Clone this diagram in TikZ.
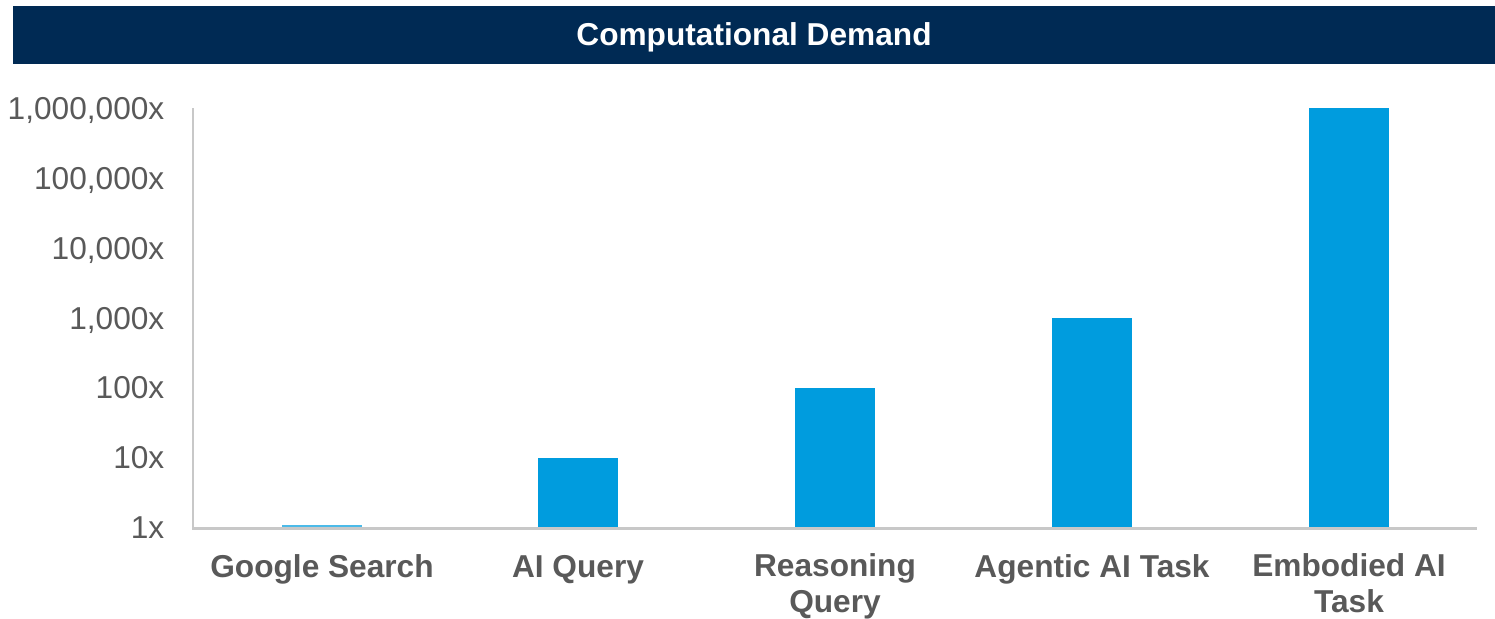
\documentclass[tikz,border=0pt]{standalone}
\usepackage{fontspec}
\setmainfont{Liberation Sans}
\definecolor{titlenavy}{RGB}{0,42,84}
\definecolor{barblue}{RGB}{0,156,222}
\definecolor{axisgray}{RGB}{200,200,200}
\definecolor{labelgray}{RGB}{89,89,89}
\tikzset{
  ticklabel/.style={anchor=base east, inner sep=0pt, text=labelgray, font=\fontsize{9}{10}\selectfont},
  catlabel/.style={anchor=base, inner sep=0pt, align=center, text=labelgray, font=\fontsize{9}{10}\selectfont\bfseries},
  bar/.style={fill=barblue}
}
\begin{document}
\begin{tikzpicture}[x=0.01cm,y=-0.01cm]
  \useasboundingbox (0,0) rectangle (1495,618);
  % Title banner
  \fill[titlenavy] (13,6) rectangle (1495,64);
  \node[text=white, font=\fontsize{9}{10}\selectfont\bfseries] (title) at (754,37) {Computational Demand};
  % Axes
  \draw[axisgray, line width=0.85pt] (193,108) -- (193,528) -- (1477,528);
  % Bars (log scale, 69.8 px per decade above 1x)
  \fill[barblue!70] (282,527) rectangle (362,525);
  \fill[bar] (538,527) rectangle (618,458);
  \fill[bar] (795,527) rectangle (875,388);
  \fill[bar] (1052,527) rectangle (1132,318);
  \fill[bar] (1309,527) rectangle (1389,108);
  % Tick labels
  \node[ticklabel] (t0) at (165,538) {1x};
  \node[ticklabel] (t1) at (165,468) {10x};
  \node[ticklabel] (t2) at (165,398) {100x};
  \node[ticklabel] (t3) at (165,329) {1,000x};
  \node[ticklabel] (t4) at (165,259) {10,000x};
  \node[ticklabel] (t5) at (165,189) {100,000x};
  \node[ticklabel] (t6) at (165,119) {1,000,000x};
  % Category labels (base = last line)
  \node[catlabel] (google) at (322,577) {Google Search};
  \node[catlabel] (aiquery) at (578,577) {AI Query};
  \node[catlabel] (reasoning) at (835,612) {Reasoning\\Query};
  \node[catlabel] (agentic) at (1092,577) {Agentic AI Task};
  \node[catlabel] (embodied) at (1349,612) {Embodied AI\\Task};
\end{tikzpicture}
\end{document}
